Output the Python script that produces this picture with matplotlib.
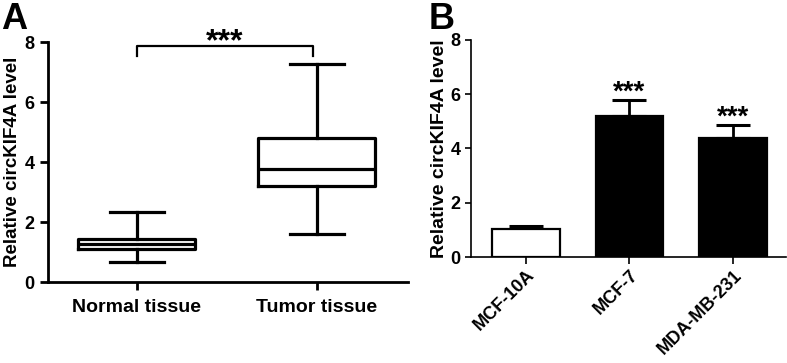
import matplotlib
matplotlib.use('Agg')
import matplotlib.pyplot as plt
import numpy as np

plt.rcParams['font.family'] = ['Liberation Sans', 'DejaVu Sans']
plt.rcParams['font.weight'] = 'bold'

# Panel A: box statistics
groups_a = ['Normal tissue', 'Tumor tissue']
whislo = [0.67, 1.6]
q1 = [1.1, 3.2]
med = [1.27, 3.77]
q3 = [1.43, 4.8]
whishi = [2.33, 7.27]

# Panel B: bar means and upper error
cells = ['MCF-10A', 'MCF-7', 'MDA-MB-231']
means = [1.03, 5.21, 4.38]
errs = [0.12, 0.58, 0.47]
bar_colors = ['white', 'black', 'black']
stars_b = ['', '***', '***']

fig = plt.figure(figsize=(7.87, 3.63), dpi=100)

# ---------------- A ----------------
axA = fig.add_axes([0.061, 0.223, 0.457, 0.661])
stats = []
for i in range(len(groups_a)):
    stats.append(dict(whislo=whislo[i], q1=q1[i], med=med[i], q3=q3[i], whishi=whishi[i], fliers=[]))
lw = 2.3
axA.bxp(stats, positions=[0, 1], widths=0.65, capwidths=0.3,
        boxprops=dict(linewidth=lw, color='black'),
        whiskerprops=dict(linewidth=lw, color='black'),
        capprops=dict(linewidth=lw, color='black'),
        medianprops=dict(linewidth=lw, color='black'))
axA.set_xlim(-0.494, 1.506)
axA.set_ylim(0, 8)
axA.set_yticks([0, 2, 4, 6, 8])
axA.set_xticks([0, 1])
axA.set_xticklabels(groups_a, fontsize=14, fontweight='bold')
axA.tick_params(axis='y', labelsize=13, width=2, length=6)
axA.tick_params(axis='x', width=2, length=6, pad=6)
for s in ['top', 'right']:
    axA.spines[s].set_visible(False)
for s in ['left', 'bottom']:
    axA.spines[s].set_linewidth(2)
axA.set_ylabel('Relative circKIF4A level', fontsize=13.5, fontweight='bold', labelpad=3)

# significance bracket
axA.plot([0, 0, 0.98, 0.98], [7.53, 7.88, 7.88, 7.53], color='black', lw=1.6, clip_on=False)
axA.text(0.49, 7.5, '***', ha='center', va='bottom', fontsize=23, fontweight='bold', clip_on=False)
fig.text(0.002, 0.995, 'A', fontsize=26, fontweight='bold', va='top', ha='left')

# ---------------- B ----------------
axB = fig.add_axes([0.5985, 0.292, 0.40, 0.598])
x = np.arange(len(cells))
axB.bar(x, means, width=0.65, color=bar_colors, edgecolor='black', linewidth=1.6, zorder=2)
axB.errorbar(x, means, yerr=[np.zeros(len(errs)), errs], fmt='none', ecolor='black',
             elinewidth=2, capsize=12, capthick=2.2, zorder=1)
for i in range(len(cells)):
    if stars_b[i]:
        axB.text(x[i], means[i] + errs[i] - 0.2, stars_b[i], ha='center', va='bottom',
                 fontsize=20, fontweight='bold')
axB.set_xlim(-0.53, 2.51)
axB.set_ylim(0, 8)
axB.set_yticks([0, 2, 4, 6, 8])
axB.set_xticks(x)
axB.set_xticklabels(cells, rotation=45, ha='right', rotation_mode='anchor', fontsize=13, fontweight='bold')
axB.tick_params(axis='y', labelsize=13, width=1.2, length=4)
axB.tick_params(axis='x', width=1.2, length=5, pad=2)
for s in ['top', 'right']:
    axB.spines[s].set_visible(False)
for s in ['left', 'bottom']:
    axB.spines[s].set_linewidth(1.2)
axB.set_ylabel('Relative circKIF4A level', fontsize=14, fontweight='bold', labelpad=2)
fig.text(0.545, 0.995, 'B', fontsize=26, fontweight='bold', va='top', ha='left')

fig.savefig('out.png', dpi=100)
